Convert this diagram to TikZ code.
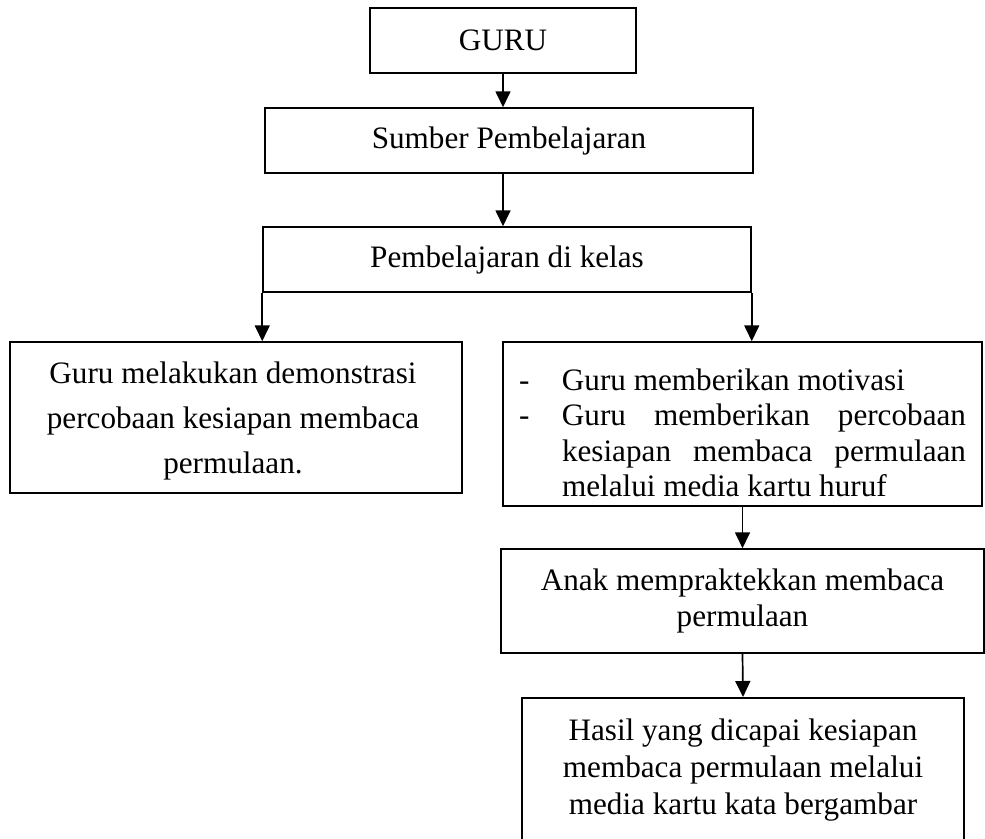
\documentclass[tikz,border=0pt]{standalone}
\usepackage{fontspec}
\setmainfont{Liberation Serif}
\usetikzlibrary{arrows.meta}
\tikzset{
  box/.style={draw, line width=1.5bp, rectangle, inner sep=0pt, align=center},
  txt/.style={inner sep=0pt, anchor=north},
  arr/.style={line width=1.7bp, -{Triangle[width=15bp,length=16bp]}}
}
\begin{document}
\begin{tikzpicture}[x=1bp,y=-1bp, font=\fontsize{31.3}{37}\selectfont]
\useasboundingbox (0,0) rectangle (985,839);
\clip (0,0) rectangle (985,839);
\node[box, minimum width=266bp, minimum height=65bp] (guru) at (503,40.5) {GURU};
\node[box, minimum width=488bp, minimum height=65bp] (sumber) at (509,140.5) {Sumber Pembelajaran};
\node[box, minimum width=488bp, minimum height=65bp] (kelas) at (507,259.5) {Pembelajaran di kelas};
% left box
\node[box, minimum width=452bp, minimum height=151bp] (left) at (236,417.5) {};
\node[txt, align=center, font=\fontsize{31.3}{45}\selectfont] (lefttext) at (233,362)
  {Guru melakukan demonstrasi\\percobaan kesiapan membaca\\permulaan.};
% right box
\node[box, minimum width=479bp, minimum height=164bp] (right) at (742.5,424) {};
\node[txt, text width=447bp, align=justify, font=\fontsize{31.3}{35.5}\selectfont] (righttext) at (742.5,368.5)
  {\hyphenpenalty=10000\tolerance=10000\relax
  \hangindent=43bp\hangafter=1\noindent\makebox[43bp][l]{-}Guru memberikan motivasi\par
  \hangindent=43bp\hangafter=1\noindent\makebox[43bp][l]{-}Guru memberikan percobaan\linebreak kesiapan membaca permulaan\linebreak melalui media kartu huruf\par};
% anak box
\node[box, minimum width=483bp, minimum height=104bp] (anak) at (742.5,601)
  {Anak mempraktekkan membaca\\permulaan};
% hasil box (bottom runs past the page)
\node[box, minimum width=442bp, minimum height=180bp, anchor=north] (hasil) at (743,697) {};
\node[txt, align=center] (hasiltext) at (743,719)
  {Hasil yang dicapai kesiapan\\membaca permulaan melalui\\media kartu kata bergambar};
% connectors
\draw[arr] (guru.south) -- (guru.south |- sumber.north);
\draw[arr] (guru.south |- sumber.south) -- (guru.south |- kelas.north);
\draw[arr] (kelas.south west) -- (kelas.south west |- left.north);
\draw[arr] (kelas.south east) -- (kelas.south east |- right.north);
\draw[arr] (right.south) -- (anak.north);
\draw[arr] (anak.south) -- (hasil.north);
\end{tikzpicture}
\end{document}
